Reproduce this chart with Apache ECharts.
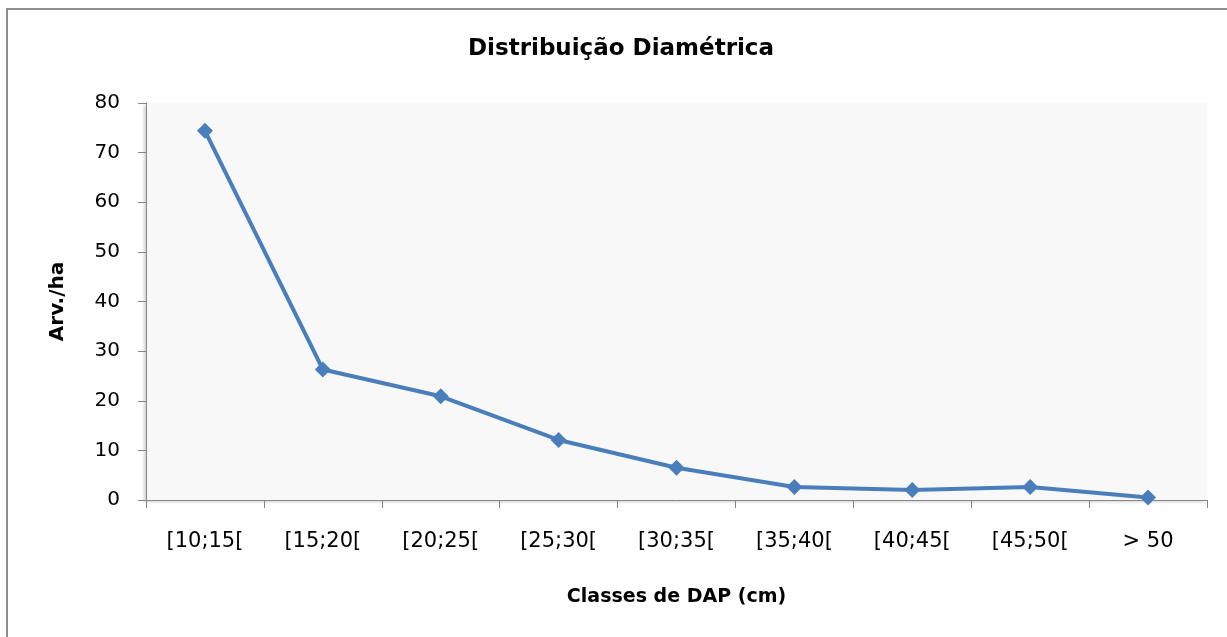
<!DOCTYPE html>
<html>
<head>
<meta charset="utf-8">
<script src="https://cdn.jsdelivr.net/npm/echarts@6/dist/echarts.min.js"></script>
<style>
  html, body { margin: 0; padding: 0; background: #fff; }
  #chart { width: 1227px; height: 637px; }
</style>
</head>
<body>
<div id="chart"></div>
<script>
const classes = ["[10;15[", "[15;20[", "[20;25[", "[25;30[", "[30;35[", "[35;40[", "[40;45[", "[45;50[", "> 50"];
const arvHa = [74.4, 26.3, 20.9, 12.1, 6.5, 2.6, 2.0, 2.6, 0.5];
const yTicks = { min: 0, max: 80, interval: 10 };

// wide face: the source picture is stretched sideways
const font = "'DejaVu Sans', 'Open Sans', sans-serif";
const axisGrey = "#868686";

const chart = echarts.init(document.getElementById("chart"), null, { renderer: "canvas" });

chart.setOption({
  backgroundColor: "#fff",
  animation: false,
  title: {
    text: "Distribuição Diamétrica",
    left: 463,
    top: 33,
    textStyle: { fontFamily: font, fontSize: 23, fontWeight: "bold", color: "#000" },
  },
  graphic: [
    {
      type: "rect",
      shape: { x: 7, y: 9, width: 1240, height: 660 },
      style: { fill: "none", stroke: "#8c8c8c", lineWidth: 2 },
      silent: true,
    },
  ],
  grid: {
    left: 146,
    right: 20,
    top: 103,
    bottom: 137,
    show: true,
    backgroundColor: "#f8f8f8",
    borderWidth: 0,
    shadowColor: "rgba(0,0,0,0.18)",
    shadowBlur: 3,
    shadowOffsetX: -2,
    shadowOffsetY: 2,
  },
  xAxis: {
    type: "category",
    data: classes,
    boundaryGap: true,
    name: "Classes de DAP (cm)",
    nameLocation: "middle",
    nameGap: 88,
    nameTextStyle: { fontFamily: font, fontSize: 19, fontWeight: "bold", color: "#000" },
    axisLine: { lineStyle: { color: axisGrey, width: 1 } },
    axisTick: { show: true, length: 8, lineStyle: { color: axisGrey } },
    axisLabel: { fontFamily: font, fontSize: 21, color: "#000", margin: 31 },
    splitLine: { show: false },
  },
  yAxis: {
    type: "value",
    min: yTicks.min,
    max: yTicks.max,
    interval: yTicks.interval,
    name: "Arv./ha",
    nameLocation: "middle",
    nameGap: 78,
    nameRotate: 90,
    nameTextStyle: { fontFamily: font, fontSize: 20, fontWeight: "bold", color: "#000" },
    axisLine: { show: true, lineStyle: { color: axisGrey, width: 1 } },
    axisTick: { show: true, length: 8, lineStyle: { color: axisGrey } },
    axisLabel: { fontFamily: font, fontSize: 20, color: "#000", margin: 26 },
    splitLine: { show: false },
  },
  series: [
    {
      type: "line",
      data: arvHa,
      symbol: "diamond",
      symbolSize: 16,
      itemStyle: { color: "#4a7ebb" },
      lineStyle: { color: "#4a7ebb", width: 4 },
      z: 3,
    },
  ],
});
</script>
</body>
</html>
